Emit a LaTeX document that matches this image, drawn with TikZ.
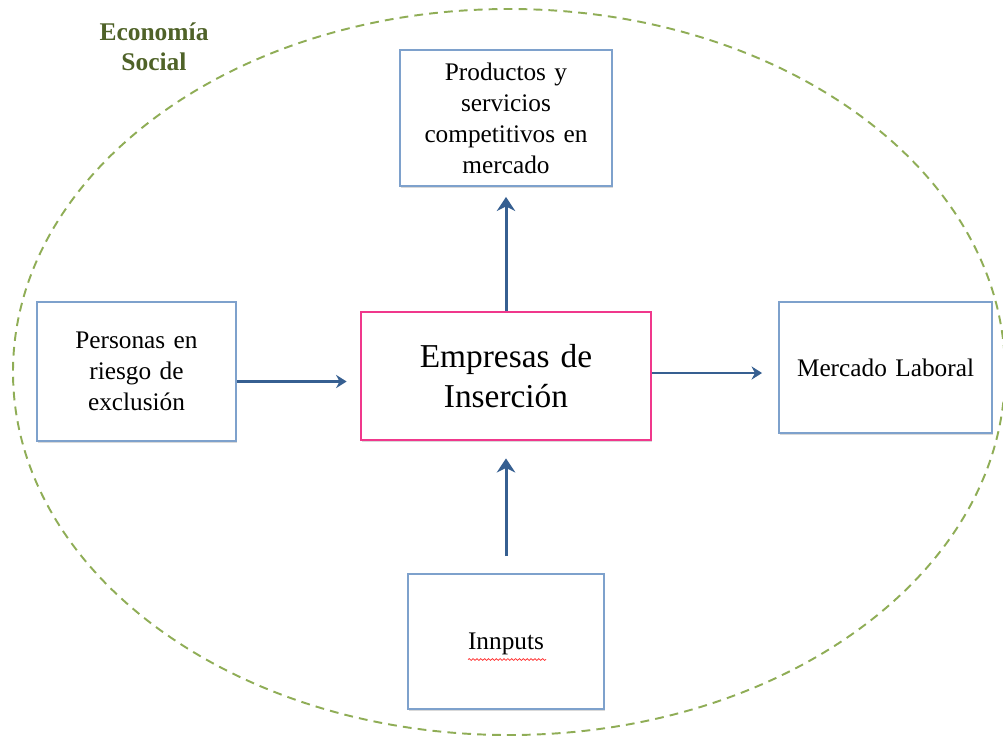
\documentclass[tikz,border=0pt]{standalone}
\usepackage{fontspec}
\setmainfont{Liberation Serif}
\usetikzlibrary{arrows.meta,shadows,decorations.pathmorphing}

\definecolor{azulcaja}{RGB}{126,161,204}
\definecolor{rosa}{RGB}{240,56,140}
\definecolor{azulflecha}{RGB}{54,95,145}
\definecolor{oliva}{RGB}{79,98,40}
\definecolor{verdeelipse}{RGB}{143,173,86}

\begin{document}
\begin{tikzpicture}[x=0.02cm, y=-0.02cm]
    % Estilos
    \tikzstyle{caja}=[rectangle, draw=azulcaja, fill=white, line width=1.1pt, text width=3.9cm, text centered, minimum width=4.2cm, minimum height=2.7cm, font=\fontsize{14.4}{17.6}\selectfont, drop shadow={shadow xshift=0.7pt, shadow yshift=-0.9pt, opacity=0.3}]
    \tikzstyle{central}=[rectangle, draw=rosa, fill=white, line width=1.6pt, text width=5.4cm, text centered, minimum width=5.8cm, minimum height=2.56cm, font=\fontsize{19}{22.8}\selectfont, drop shadow={shadow xshift=0.7pt, shadow yshift=-0.9pt, opacity=0.3}]
    \tikzstyle{flecha}=[-{Stealth[length=6pt, width=7.5pt]}, line width=1.4pt, azulflecha]
    \tikzstyle{flechav}=[-{Stealth[length=8pt, width=10.5pt]}, line width=1.7pt, azulflecha]
    \tikzstyle{subrayado}=[red!85, line width=0.4pt, decorate, decoration={snake, amplitude=0.5pt, segment length=2.2pt}]

    \useasboundingbox (0,0) rectangle (1003,735);

    % Economia social
    \draw[verdeelipse, line width=1.1pt, dash pattern=on 5pt off 3.5pt] (509,372) ellipse [x radius=496, y radius=363];
    \node[oliva, font=\fontsize{14.5}{17}\selectfont\bfseries, align=center] (econ) at (154,47) {Economía\\Social};

    % Cajas
    \node[caja, minimum width=4.24cm, minimum height=2.72cm] (prod) at (506,118) {Productos y\\servicios\\competitivos en\\mercado};
    \node[caja, minimum width=3.98cm, minimum height=2.78cm, text width=3.7cm] (personas) at (136.5,371.5) {Personas en\\riesgo de\\exclusión};
    \node[central] (empresas) at (506,376) {Empresas de\\Inserción};
    \node[caja, text depth=0pt, minimum width=4.26cm, minimum height=2.62cm] (mercado) at (885.5,367.5) {Mercado Laboral};
    \node[caja, text depth=0pt, minimum width=3.92cm, minimum height=2.7cm, text width=3.6cm] (inputs) at (506,641.5) {Innputs};
    \draw[subrayado] ([xshift=-0.76cm, yshift=-0.36cm]inputs.center) -- ([xshift=0.8cm, yshift=-0.36cm]inputs.center);

    % Flechas
    \draw[flecha, shorten >=0.26cm] ([yshift=-0.2cm]personas.east) -- ([yshift=-0.2cm]personas.east -| empresas.west);
    \draw[flecha, shorten >=0.32cm] ([yshift=0.06cm]empresas.east) -- ([yshift=0.06cm]empresas.east -| mercado.west);
    \draw[flechav, shorten >=0.2cm] (empresas.north) -- (prod.south);
    \draw[flechav, shorten <=0.34cm, shorten >=0.34cm] (inputs.north) -- (empresas.south);
\end{tikzpicture}
\end{document}
